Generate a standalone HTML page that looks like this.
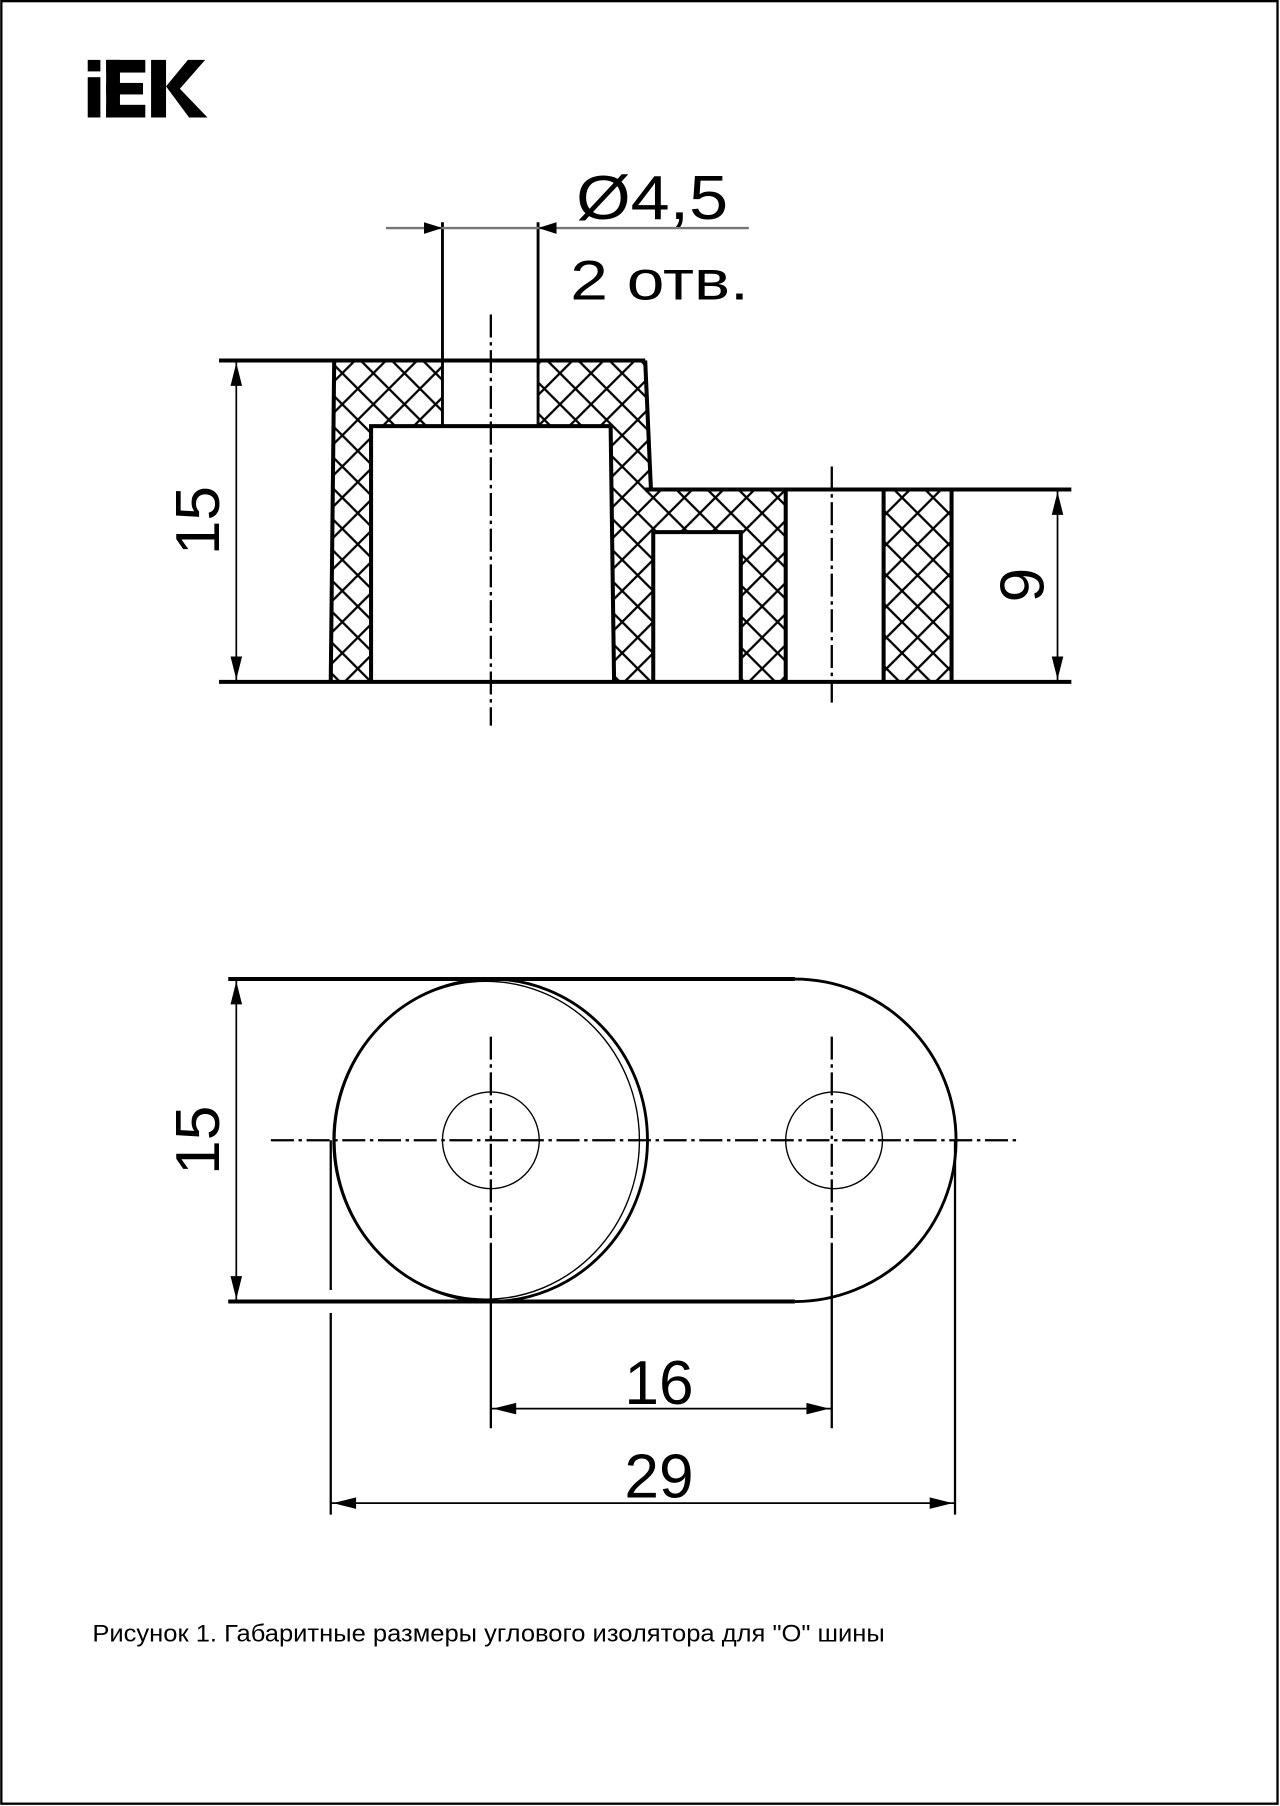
<!DOCTYPE html>
<html><head><meta charset="utf-8"><style>html,body{margin:0;padding:0;background:#fff}svg{display:block}</style></head>
<body>
<svg width="1280" height="1806" viewBox="0 0 1111 1568" xmlns="http://www.w3.org/2000/svg" font-family="Liberation Sans, sans-serif">
<defs>
<pattern id="h" width="27" height="27" patternUnits="userSpaceOnUse">
<path d="M0,0L27,27M27,0L0,27" stroke="#000" stroke-width="2"/>
</pattern>
</defs>
<rect x="1" y="1" width="1108" height="1565" fill="#fff" stroke="#000" stroke-width="2"/>
<g fill="#000">
<rect x="76" y="52" width="11" height="10"/>
<rect x="76" y="67" width="11" height="35"/>
<rect x="92" y="52" width="34" height="11"/>
<rect x="92" y="52" width="12" height="50"/>
<rect x="92" y="72" width="32" height="10"/>
<rect x="92" y="91" width="34" height="11"/>
<rect x="131" y="52" width="13" height="50"/>
<polygon points="144,75 163,52 178,52 156,77 180,102 164,102"/>
</g>
<g fill="url(#h)" stroke="none">
<polygon points="290,313 384,313 384,370 322,370 322,592 287,592"/>
<polygon points="467,313 560,313 565,425 682,425 682,592 643,592 643,462 567,462 567,592 533,592 530,370 467,370"/>
<rect x="767" y="425" width="59" height="167"/>
</g>
<g fill="none" stroke="#000" stroke-width="3.5">
<line x1="190" y1="313" x2="560" y2="313"/>
<line x1="190" y1="592" x2="930" y2="592"/>
<line x1="560" y1="425" x2="930" y2="425"/>
<polyline points="290,313 287,592"/>
<polyline points="322,592 322,370 530,370 533,592"/>
<polyline points="560,313 565,425"/>
<polyline points="567,592 567,462 643,462 643,592"/>
<line x1="682" y1="425" x2="682" y2="592"/>
<line x1="767" y1="425" x2="767" y2="592"/>
<line x1="826" y1="425" x2="826" y2="592"/>
</g>
<g stroke="#000" stroke-width="2.5">
<line x1="384" y1="193" x2="384" y2="370"/>
<line x1="467" y1="193" x2="467" y2="370"/>
</g>
<line x1="335" y1="198" x2="650" y2="198" stroke="#777" stroke-width="2"/>
<polygon points="384,198 368,193 368,203" fill="#000"/>
<polygon points="467,198 483,193 483,203" fill="#000"/>
<g stroke="#000" stroke-width="2" stroke-dasharray="20,4,3,4">
<line x1="426" y1="273" x2="426" y2="630"/>
<line x1="722" y1="405" x2="722" y2="610"/>
</g>
<g stroke="#000" stroke-width="1.5">
<line x1="205" y1="313" x2="205" y2="592"/>
<line x1="918" y1="425" x2="918" y2="592"/>
</g>
<g fill="#000">
<polygon points="205,315 200,335 210,335"/><polygon points="205,590 200,570 210,570"/>
<polygon points="918,427 913,447 923,447"/><polygon points="918,590 913,570 923,570"/>
</g>
<text x="500" y="190" font-size="54" textLength="132" lengthAdjust="spacingAndGlyphs">Ø4,5</text>
<text x="495" y="260" font-size="48" textLength="155" lengthAdjust="spacingAndGlyphs">2 отв.</text>
<text transform="translate(190,452) rotate(-90)" font-size="54" text-anchor="middle">15</text>
<text transform="translate(906,508) rotate(-90)" font-size="54" text-anchor="middle">9</text>
<g fill="none" stroke="#000">
<line x1="198" y1="850" x2="690" y2="850" stroke-width="3.5"/>
<line x1="198" y1="1130" x2="690" y2="1130" stroke-width="3.5"/>
<path d="M690,850 A140,140 0 0 1 690,1130" stroke-width="2.5"/>
<ellipse cx="426" cy="990" rx="136" ry="140" stroke-width="2.5"/>
<ellipse cx="422" cy="990" rx="133" ry="138" stroke-width="1.2"/>
<circle cx="426" cy="990" r="42" stroke-width="1.2"/>
<circle cx="724" cy="990" r="42" stroke-width="1.2"/>
</g>
<g stroke="#000" stroke-width="2" stroke-dasharray="20,4,3,4">
<line x1="235" y1="990" x2="882" y2="990"/>
<line x1="426" y1="900" x2="426" y2="1080"/>
<line x1="722" y1="900" x2="722" y2="1080"/>
</g>
<g stroke="#000" stroke-width="2">
<line x1="287" y1="990" x2="287" y2="1120"/>
<line x1="287" y1="1140" x2="287" y2="1315"/>
<line x1="829" y1="990" x2="829" y2="1315"/>
<line x1="426" y1="1080" x2="426" y2="1240"/>
<line x1="722" y1="1080" x2="722" y2="1240"/>
</g>
<g stroke="#000" stroke-width="1.5">
<line x1="205" y1="850" x2="205" y2="1130"/>
<line x1="426" y1="1223" x2="722" y2="1223"/>
<line x1="287" y1="1305" x2="829" y2="1305"/>
</g>
<g fill="#000">
<polygon points="205,852 200,872 210,872"/><polygon points="205,1128 200,1108 210,1108"/>
<polygon points="428,1223 448,1218 448,1228"/><polygon points="720,1223 700,1218 700,1228"/>
<polygon points="289,1305 309,1300 309,1310"/><polygon points="827,1305 807,1300 807,1310"/>
</g>
<text x="572" y="1219" font-size="54" text-anchor="middle">16</text>
<text x="572" y="1300" font-size="54" text-anchor="middle">29</text>
<text transform="translate(190,990) rotate(-90)" font-size="54" text-anchor="middle">15</text>
<text x="80" y="1425" font-size="21" textLength="688" lengthAdjust="spacingAndGlyphs">Рисунок 1. Габаритные размеры углового изолятора для "О" шины</text>
</svg>
</body></html>
